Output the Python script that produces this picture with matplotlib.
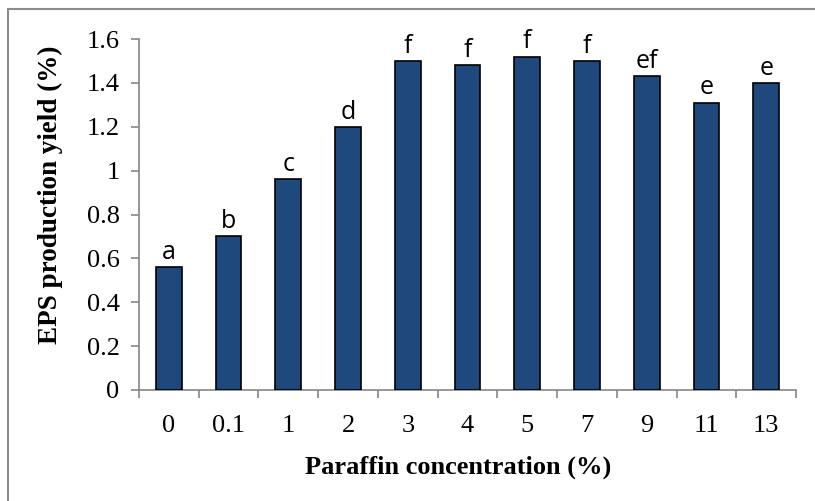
import matplotlib
matplotlib.use("Agg")
import matplotlib.pyplot as plt
from matplotlib.patches import Rectangle

categories = ["0", "0.1", "1", "2", "3", "4", "5", "7", "9", "11", "13"]
values = [0.56, 0.70, 0.96, 1.20, 1.50, 1.48, 1.52, 1.50, 1.43, 1.31, 1.40]
letters = ["a", "b", "c", "d", "f", "f", "f", "f", "ef", "e", "e"]
yticks = [0, 0.2, 0.4, 0.6, 0.8, 1, 1.2, 1.4, 1.6]
ytick_labels = ["0", "0.2", "0.4", "0.6", "0.8", "1", "1.2", "1.4", "1.6"]

fig = plt.figure(figsize=(8.15, 5.01), dpi=100)
fig.patches.append(Rectangle((8/815, -0.1), 1.2, 1 - 9/501 + 0.1, transform=fig.transFigure,
                             fill=False, edgecolor="#8c8c8c", linewidth=1.5))
ax = fig.add_axes([139/815, 1 - 390/501, (796 - 139)/815, (390 - 39)/501])

x = list(range(len(categories)))
bars = ax.bar(x, values, width=0.43, color="#1f497d", edgecolor="black", linewidth=1.2, zorder=3)
for xi, v, l in zip(x, values, letters):
    ax.text(xi, v + 0.01, l, ha="center", va="bottom", fontsize=18, family="Open Sans")

ax.set_xlim(-0.5, len(categories) - 0.5)
ax.set_ylim(0, 1.6)
ax.set_yticks(yticks)
ax.set_yticklabels(ytick_labels, family="Liberation Serif", fontsize=19)
ax.set_xticks(x)
ax.set_xticklabels(categories, family="Liberation Serif", fontsize=19)
ax.tick_params(axis="x", length=0, pad=18)
ax.set_xticks([i - 0.5 for i in range(len(categories) + 1)], minor=True)
ax.tick_params(axis="x", which="minor", length=6, color="#868686", width=1.2)
ax.tick_params(axis="y", length=6, color="#868686", width=1.2, pad=8)

for s in ["top", "right"]:
    ax.spines[s].set_visible(False)
for s in ["left", "bottom"]:
    ax.spines[s].set_color("#868686")
    ax.spines[s].set_linewidth(1.2)

fig.text(458/815, 1 - 467/501, "Paraffin concentration (%)", ha="center", va="center",
         family="Liberation Serif", fontweight="bold", fontsize=19)
fig.text(50/815, 1 - 195/501, "EPS production yield (%)", ha="center", va="center", rotation=90,
         family="Liberation Serif", fontweight="bold", fontsize=19.5)

fig.savefig("out.png", dpi=100)
